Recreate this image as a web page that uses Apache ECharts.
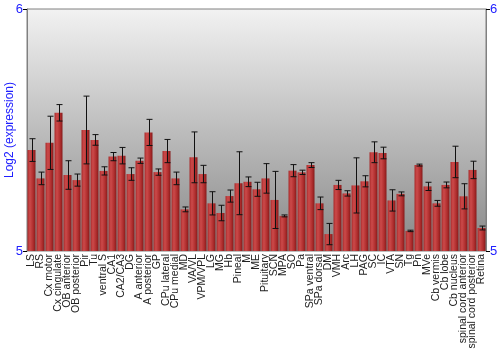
<!DOCTYPE html>
<html><head><meta charset="utf-8">
<script src="https://cdn.jsdelivr.net/npm/echarts@6/dist/echarts.min.js"></script>
<style>html,body{margin:0;padding:0;background:#fff}#c{width:500px;height:350px}</style>
</head><body><div id="c"></div>
<script>
var categories = ["LS","RS","Cx motor","Cx cingulate","OB anterior","OB posterior","Pir","Tu","ventral S","CA1","CA2/CA3","DG","A anterior","A posterior","GP","CPu lateral","CPu medial","MD","VA/VL","VPM/VPL","LG","MG","Hb","Pineal","M","ME","Pituitary","SCN","MPA","SO","Pa","SPa ventral","SPa dorsal","DM","VMH","Arc","LH","PAG","SC","IC","VTA","SN","Tg","Pn","MVe","Cb vermis","Cb lobe","Cb nucleus","spinal cord anterior","spinal cord posterior","Retina"];
var values = [5.417,5.300,5.447,5.571,5.314,5.293,5.500,5.459,5.331,5.390,5.394,5.318,5.373,5.490,5.326,5.413,5.300,5.172,5.387,5.318,5.197,5.157,5.227,5.280,5.286,5.255,5.300,5.211,5.145,5.332,5.325,5.355,5.197,5.070,5.273,5.238,5.271,5.288,5.408,5.405,5.209,5.236,5.083,5.355,5.267,5.197,5.273,5.368,5.226,5.335,5.095];
var errors = [0.047,0.026,0.110,0.034,0.059,0.025,0.140,0.022,0.017,0.017,0.034,0.026,0.011,0.054,0.013,0.048,0.026,0.010,0.105,0.036,0.048,0.032,0.025,0.130,0.020,0.029,0.061,0.118,0.004,0.025,0.009,0.010,0.026,0.044,0.019,0.011,0.114,0.023,0.043,0.024,0.044,0.008,0.003,0.004,0.017,0.012,0.012,0.065,0.052,0.036,0.008];
var yTicks = [5, 6];

var chart = echarts.init(document.getElementById('c'), null, {renderer:'canvas'});
var errData = values.map(function(v,i){return [i, v - errors[i], v + errors[i]];});
var blue = '#2020ff';
chart.setOption({
  animation:false,
  grid:{left:27,right:14,top:9,bottom:99,containLabel:false,outerBoundsMode:'none',show:true,borderColor:'#808080',borderWidth:1,
    backgroundColor:{type:'linear',x:0,y:0,x2:0,y2:1,colorStops:[{offset:0,color:'#f2f2f2'},{offset:1,color:'#888888'}]}},
  xAxis:{type:'category',data:categories,boundaryGap:true,
    axisLine:{show:false},axisTick:{show:false},
    axisLabel:{interval:0,rotate:90,fontSize:10.5,fontFamily:'Liberation Sans, Arial',color:'#222',margin:3}},
  yAxis:[
    {type:'value',min:yTicks[0],max:yTicks[1],interval:1,position:'left',
     axisLine:{show:true,lineStyle:{color:'#808080'}},axisTick:{show:true,length:4,lineStyle:{color:'#000'}},
     splitLine:{show:false},axisLabel:{color:blue,fontSize:13,fontFamily:'Liberation Sans, Arial',margin:4},
     name:'Log2 (expression)',nameLocation:'middle',nameGap:11,nameMoveOverlap:false,
     nameTextStyle:{color:blue,fontSize:12,fontFamily:'Liberation Sans, Arial'}},
    {type:'value',min:yTicks[0],max:yTicks[1],interval:1,position:'right',
     axisLine:{show:true,lineStyle:{color:'#808080'}},axisTick:{show:true,length:4,lineStyle:{color:'#000'}},
     splitLine:{show:false},axisLabel:{color:blue,fontSize:13,fontFamily:'Liberation Sans, Arial',margin:4}}
  ],
  series:[
    {type:'bar',data:values,barWidth:8,
     itemStyle:{color:{type:'linear',x:0,y:0,x2:1,y2:0,colorStops:[{offset:0,color:'#a82a2a'},{offset:0.3,color:'#cc4a4a'},{offset:0.7,color:'#b02e2e'},{offset:1,color:'#861a1a'}]}}},
    {type:'custom',data:errData,z:10,
     renderItem:function(params,api){
       var x=api.value(0);
       var lo=api.coord([x,api.value(1)]);
       var hi=api.coord([x,api.value(2)]);
       var cx=Math.round(lo[0])+0.5;
       var style={stroke:'#111',lineWidth:1};
       return {type:'group',children:[
         {type:'line',shape:{x1:cx,y1:hi[1],x2:cx,y2:lo[1]},style:style},
         {type:'line',shape:{x1:cx-3,y1:hi[1],x2:cx+3,y2:hi[1]},style:style},
         {type:'line',shape:{x1:cx-3,y1:lo[1],x2:cx+3,y2:lo[1]},style:style}
       ]};
     }}
  ]
});
</script></body></html>
